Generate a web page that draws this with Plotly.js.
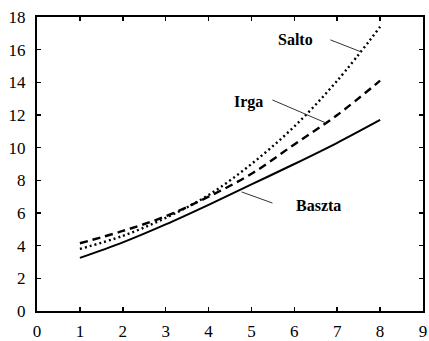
<!DOCTYPE html>
<html>
<head>
<meta charset="utf-8">
<script src="https://cdn.plot.ly/plotly-3.0.1.min.js"></script>
<style>html,body{margin:0;padding:0;background:#fff;}#chart{width:429px;height:341px;}</style>
</head>
<body>
<div id="chart"></div>
<script>
const xValues = [1, 2, 3, 4, 5, 6, 7, 8];
const baszta = [3.25, 4.2, 5.3, 6.5, 7.75, 9.0, 10.3, 11.7];
const irga   = [4.15, 4.9, 5.8, 7.0, 8.4, 10.2, 12.0, 14.1];
const salto  = [3.8, 4.6, 5.7, 7.1, 9.0, 11.3, 14.1, 17.4];
const seriesNames = ['Baszta', 'Irga', 'Salto'];
const xTicks = [0, 1, 2, 3, 4, 5, 6, 7, 8, 9];
const yTicks = [0, 2, 4, 6, 8, 10, 12, 14, 16, 18];

const font = {family: '"Liberation Serif", "Times New Roman", serif', size: 17, color: '#000'};

const traces = [
  {x: xValues, y: baszta, name: seriesNames[0], mode: 'lines', line: {color: '#000', width: 2, shape: 'spline'}},
  {x: xValues, y: irga, name: seriesNames[1], mode: 'lines', line: {color: '#000', width: 2.4, dash: '8px,5px', shape: 'spline'}},
  {x: xValues, y: salto, name: seriesNames[2], mode: 'lines', line: {color: '#000', width: 2.4, dash: '2px,3px', shape: 'spline'}}
];

const axisBase = {
  showgrid: false, zeroline: false, showline: true, linecolor: '#000', linewidth: 2,
  mirror: 'allticks', ticks: 'inside', ticklen: 4, tickwidth: 1.5, tickcolor: '#000',
  tickfont: font
};

const labelFont = Object.assign({}, font, {size: 16, weight: 'bold'});
const annotations = [
  {x: 6.02, y: 16.6, text: seriesNames[2], showarrow: false, font: labelFont},
  {x: 4.93, y: 12.8, text: seriesNames[1], showarrow: false, font: labelFont},
  {x: 6.56, y: 6.49, text: seriesNames[0], showarrow: false, font: labelFont}
];
const shapes = [
  {type: 'line', x0: 6.84, y0: 16.6, x1: 7.56, y1: 15.86, line: {color: '#333', width: 1}},
  {type: 'line', x0: 5.49, y0: 12.92, x1: 6.74, y1: 11.51, line: {color: '#333', width: 1}},
  {type: 'line', x0: 4.77, y0: 7.29, x1: 5.49, y1: 6.61, line: {color: '#333', width: 1}}
];

const layout = {
  width: 429, height: 341,
  margin: {l: 37, r: 6, t: 17, b: 30},
  paper_bgcolor: '#fff', plot_bgcolor: '#fff',
  showlegend: false,
  font: font,
  xaxis: Object.assign({}, axisBase, {range: [0, 9], tickvals: xTicks, ticktext: xTicks.map(String), ticklabelstandoff: 4}),
  yaxis: Object.assign({}, axisBase, {range: [0, 18], tickvals: yTicks, ticktext: yTicks.map(String), ticklabelstandoff: 6}),
  annotations: annotations,
  shapes: shapes
};

Plotly.newPlot('chart', traces, layout, {staticPlot: true, displayModeBar: false});
</script>
</body>
</html>
